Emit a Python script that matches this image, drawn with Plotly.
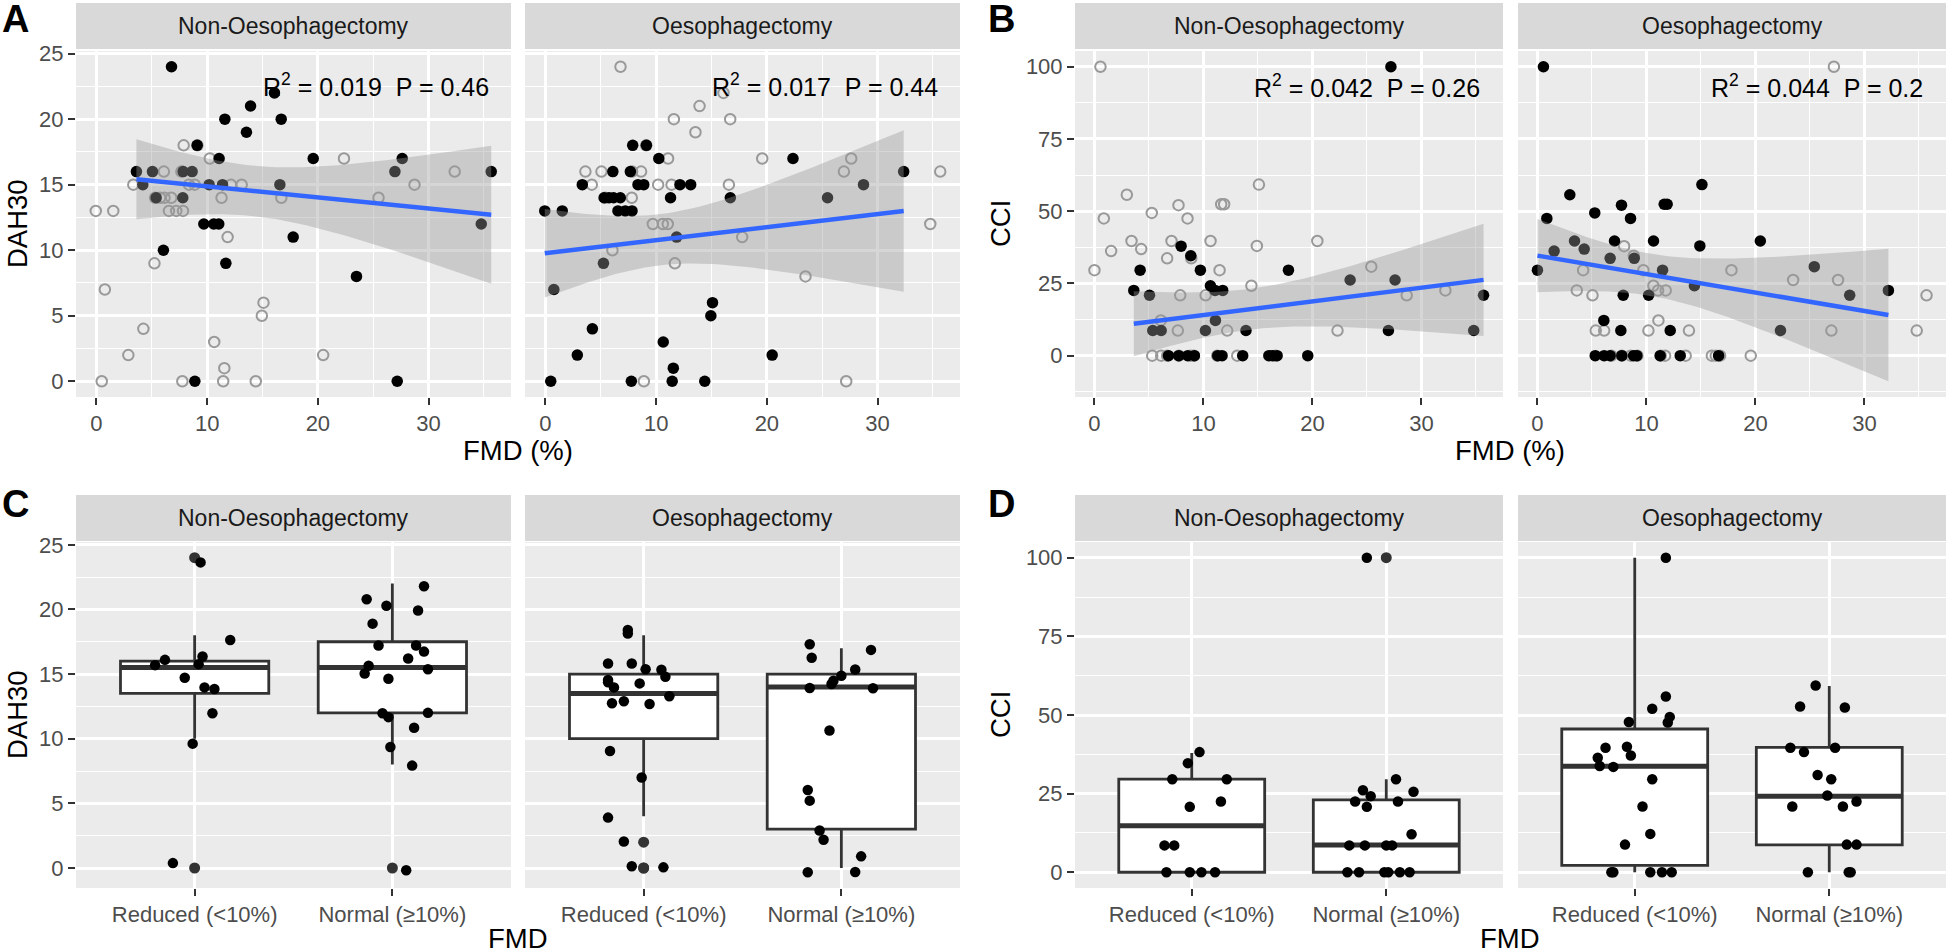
import numpy as np
import plotly.graph_objects as go

W, H = 1946, 952
FONT = "Liberation Sans, Arial, sans-serif"

facets = ["Non-Oesophagectomy", "Oesophagectomy"]
categories = ["Reduced (<10%)", "Normal (≥10%)"]

# ---- panel A: DAH30 vs FMD (%) ----
non_fmd_a = [6.78, 16.08, 13.92, 11.6, 16.69, 13.55, 9.1, 11.08, 19.58, 27.62,
             3.61, 5.06, 7.83, 8.64, 26.96, 35.66, 4.19, 10.18, 11.39, 16.57,
             5.39, 7.8, 9.7, 10.6, 11.05, 34.76, 17.77, 6.05, 11.69, 23.49,
             8.89, 27.17]
non_dah = [24, 22, 21, 20, 20, 19, 18, 17, 17, 17,
           16, 16, 16, 16, 16, 16, 15, 15, 15, 15,
           14, 14, 12, 12, 12, 12, 11, 10, 9, 8,
           0, 0]
oes_fmd_a = [7.88, 9.12, 10.24, 22.36, 32.36, 6.09, 7.67, 3.33, 8.36, 8.88,
             12.15, 13.12, 28.73, 5.3, 5.75, 6.15, 6.76, 11.3, 16.7, 25.48,
             -0.06, 1.52, 6.55, 7.21, 7.82, 11.85, 5.24, 0.76, 15.09, 14.94,
             4.24, 10.64, 2.88, 20.48, 11.55, 0.48, 7.76, 11.45, 14.39]
oes_dah = [18, 18, 17, 17, 16, 16, 16, 15, 15, 15,
           15, 15, 15, 14, 14, 14, 14, 14, 14, 14,
           13, 13, 13, 13, 13, 11, 9, 7, 6, 5,
           4, 3, 2, 2, 1, 0, 0, 0, 0]

# ---- panel B: CCI vs FMD (%) ----
non_fmd_b = [27.2, 7.95, 8.84, 4.19, 9.72, 17.8, 3.61, 5.05, 10.64, 11.07,
             11.77, 11.1, 23.46, 27.58, 35.7, 34.8, 5.35, 6.12, 10.18, 13.9,
             26.97, 6.79, 7.74, 8.56, 9.17, 11.31, 11.71, 13.6, 16.0, 16.36,
             16.76, 19.57]
non_cci = [100, 37.9, 34.6, 29.6, 29.6, 29.6, 22.6, 20.9, 24.2, 22.6,
           22.6, 12.2, 26.2, 26.2, 20.9, 8.7, 8.7, 8.7, 8.7, 8.7,
           8.7, 0, 0, 0, 0, 0, 0, 0, 0, 0,
           0, 0]
oes_fmd_b = [0.55, 15.09, 2.97, 7.71, 11.63, 11.9, 0.86, 5.26, 8.54, 3.4,
             7.07, 10.65, 20.45, 14.9, 1.53, 4.29, 6.67, 8.88, 0.0, 11.48,
             25.4, 14.4, 7.87, 10.2, 28.65, 32.2, 6.09, 7.65, 12.18, 22.3,
             5.3, 6.12, 6.67, 7.74, 8.82, 9.12, 11.26, 13.1, 16.62]
oes_cci = [100, 59.2, 55.7, 52.1, 52.4, 52.4, 47.5, 49.4, 47.5, 39.7,
           39.7, 39.7, 39.7, 38.0, 36.2, 36.9, 33.7, 33.7, 29.6, 29.6,
           30.8, 24.2, 20.9, 20.9, 20.9, 22.6, 12.2, 8.7, 8.7, 8.7,
           0, 0, 0, 0, 0, 0, 0, 0, 0]

stats_a = ["R<sup>2</sup> = 0.019 \u00a0P = 0.46", "R<sup>2</sup> = 0.017 \u00a0P = 0.44"]
stats_b = ["R<sup>2</sup> = 0.042 \u00a0P = 0.26", "R<sup>2</sup> = 0.044 \u00a0P = 0.2"]

# ---- panels C/D: jittered points as drawn (offset from category, value) ----
c_non_red_dx = [0.03, 0.18, 0.04, -0.15, -0.20, 0.02, -0.05, 0.05, 0.10, 0.09, -0.01, -0.11]
c_non_red_y = [23.64, 17.64, 16.36, 16.10, 15.69, 15.77, 14.72, 13.97, 13.85, 11.97, 9.62, 0.38]
c_non_nor_dx = [0.16, -0.13, -0.03, 0.13, -0.10, -0.07, 0.12, 0.16, 0.08, -0.12,
                0.18, -0.14, -0.02, -0.05, -0.02, 0.18, 0.11, -0.01, 0.10, 0.07]
c_non_nor_y = [21.79, 20.79, 20.28, 19.92, 18.90, 17.21, 17.21, 16.74, 16.21, 15.64,
               15.38, 15.05, 14.64, 11.97, 11.67, 12.0, 10.85, 9.36, 7.92, -0.18]
c_oes_red_dx = [-0.08, -0.08, -0.18, -0.06, 0.01, 0.09, 0.11, -0.18, -0.18, -0.15,
                -0.02, 0.13, -0.16, -0.10, 0.03, -0.17, -0.01, -0.18, -0.10, -0.06, 0.10]
c_oes_red_y = [18.41, 18.13, 15.82, 15.82, 15.38, 15.33, 14.80, 14.54, 14.36, 13.97,
               14.28, 13.28, 12.74, 12.90, 12.69, 9.05, 7.00, 3.90, 2.05, 0.13, 0.05]
c_oes_nor_dx = [-0.16, 0.15, -0.15, 0.07, 0.0, -0.04, -0.05, -0.16, 0.16, -0.06,
                -0.17, -0.16, -0.11, -0.09, 0.10, -0.17, 0.07]
c_oes_nor_y = [17.31, 16.87, 16.26, 15.36, 14.87, 14.49, 14.23, 13.92, 13.9, 10.64,
               6.03, 5.21, 2.9, 2.18, 0.9, -0.33, -0.31]

d_non_red_dx = [0.04, -0.02, -0.10, 0.18, -0.01, 0.15, -0.14, -0.09, -0.13, -0.01, 0.05, 0.12]
d_non_red_y = [38.2, 34.7, 29.6, 29.6, 20.8, 22.5, 8.55, 8.55, 0, 0, 0, 0]
d_non_nor_dx = [-0.10, 0.05, -0.12, 0.14, -0.08, -0.16, 0.06, -0.10, 0.13, -0.19,
                -0.11, 0.00, 0.03, -0.20, -0.14, -0.01, 0.01, 0.07, 0.12]
d_non_nor_y = [100, 29.6, 26.1, 25.6, 24.2, 22.5, 22.5, 20.8, 12.1, 8.55,
               8.55, 8.55, 8.55, 0, 0, 0, 0, 0, 0]
d_oes_red_dx = [0.16, 0.16, 0.09, 0.18, 0.17, -0.03, -0.15, -0.04, -0.02, -0.19,
                -0.18, -0.11, 0.09, 0.04, 0.08, -0.05, -0.12, -0.11, 0.08, 0.14, 0.19]
d_oes_red_y = [100, 55.9, 52.0, 49.4, 47.6, 47.8, 39.6, 39.9, 37.1, 36.4,
               33.8, 33.5, 29.6, 20.9, 12.2, 8.8, 0, 0, 0, 0, 0]
d_oes_nor_dx = [-0.07, -0.15, 0.08, -0.20, -0.13, 0.03, -0.06, 0.01, -0.01, -0.19,
                0.07, 0.14, 0.09, 0.14, -0.11, 0.10, 0.11]
d_oes_nor_y = [59.4, 52.7, 52.4, 39.6, 38.2, 39.6, 30.9, 29.6, 24.4, 20.9,
               20.9, 22.5, 8.8, 8.8, 0, 0, 0]


def t975(df):
    z = 1.959964
    return z + (z**3 + z) / (4 * df) + (5 * z**5 + 16 * z**3 + 3 * z) / (96 * df**2)


def lm_band(x, y):
    x = np.asarray(x, float)
    y = np.asarray(y, float)
    n = len(x)
    b1, b0 = np.polyfit(x, y, 1)
    xs = np.linspace(x.min(), x.max(), 80)
    fit = b0 + b1 * xs
    s = np.sqrt(np.sum((y - (b0 + b1 * x)) ** 2) / (n - 2))
    se = s * np.sqrt(1 / n + (xs - x.mean()) ** 2 / np.sum((x - x.mean()) ** 2))
    t = t975(n - 2)
    return xs, fit, fit - t * se, fit + t * se


def box_stats(v):
    # same rules as ggplot's geom_boxplot (type 7 quantiles, 1.5 IQR whiskers)
    q1, med, q3 = np.percentile(v, [25, 50, 75])
    lo_f, hi_f = q1 - 1.5 * (q3 - q1), q3 + 1.5 * (q3 - q1)
    inside = v[(v >= lo_f) & (v <= hi_f)]
    out = v[(v < lo_f) | (v > hi_f)]
    return q1, med, q3, inside.min(), inside.max(), out


def expand(vals, frac=0.05):
    lo, hi = float(min(vals)), float(max(vals))
    pad = (hi - lo) * frac
    return [lo - pad, hi + pad]


# facet geometry in pixels: (left, right) per facet, rows (top, bottom)
cols_left = [(76, 511), (525, 960)]
cols_right = [(1075, 1503), (1518, 1946)]
row_top = (51, 397)
row_bot = (542, 888)
strip_top = (3, 49)
strip_bot = (495, 541)

fig = go.Figure()
layout = {}
shapes = []
annotations = []

tickfont = dict(family=FONT, size=22, color="#4D4D4D")


def axis_pair(idx, cols, row, first, xr, yr, xmaj, ymaj, discrete=False):
    x0, x1 = cols
    y0, y1 = row
    sfx = "" if idx == 1 else str(idx)
    xa = dict(domain=[x0 / W, x1 / W], anchor="y" + sfx, range=xr, autorange=False,
              automargin=False, showgrid=True, gridcolor="white", gridwidth=2.6,
              zeroline=False, showline=False, ticks="outside", ticklen=7, tickwidth=2,
              tickcolor="#333333", tickfont=tickfont, fixedrange=True)
    if discrete:
        xa.update(tickmode="array", tickvals=[1, 2], ticktext=categories)
    else:
        xa.update(tick0=0, dtick=xmaj,
                  minor=dict(showgrid=True, gridcolor="white", gridwidth=1.3,
                             tick0=0, dtick=xmaj / 2, ticks=""))
    ya = dict(domain=[1 - y1 / H, 1 - y0 / H], anchor="x" + sfx, range=yr, autorange=False,
              automargin=False, showgrid=True, gridcolor="white", gridwidth=2.6,
              zeroline=False, showline=False, tick0=0, dtick=ymaj, tickfont=tickfont,
              minor=dict(showgrid=True, gridcolor="white", gridwidth=1.3,
                         tick0=0, dtick=ymaj / 2, ticks=""), fixedrange=True)
    if first:
        ya.update(ticks="outside", ticklen=7, tickwidth=2, tickcolor="#333333")
    else:
        ya.update(ticks="", showticklabels=False)
    layout["xaxis" + sfx] = xa
    layout["yaxis" + sfx] = ya
    return "x" + sfx, "y" + sfx


def paper_text(text, x, y, size, color="black", angle=0, xanchor="center", bold=False):
    annotations.append(dict(xref="paper", yref="paper", x=x / W, y=1 - y / H,
                            xanchor=xanchor, yanchor="middle", showarrow=False,
                            text="<b>%s</b>" % text if bold else text, textangle=angle,
                            font=dict(family=FONT, size=size, color=color)))


def strip(cols, srow, text):
    shapes.append(dict(type="rect", xref="paper", yref="paper",
                       x0=cols[0] / W, x1=cols[1] / W,
                       y0=1 - srow[1] / H, y1=1 - srow[0] / H,
                       fillcolor="#D9D9D9", line=dict(width=0), layer="below"))
    paper_text(text, (cols[0] + cols[1]) / 2, (srow[0] + srow[1]) / 2, 23, "#1A1A1A")


def scatter_panel(base, cols, xs_list, ys_list, stats, ann_y, ymaj):
    fits = [lm_band(x, y) for x, y in zip(xs_list, ys_list)]
    xr = expand(xs_list[0] + xs_list[1])
    yvals = list(ys_list[0]) + list(ys_list[1])
    for f in fits:
        yvals += list(f[2]) + list(f[3])
    yr = expand(yvals)
    for k in range(2):
        xa, ya = axis_pair(base + k, cols[k], row_top, k == 0, xr, yr, 10, ymaj)
        strip(cols[k], strip_top, facets[k])
        other = 1 - k
        fig.add_trace(go.Scatter(x=xs_list[other], y=ys_list[other], mode="markers",
                                 xaxis=xa, yaxis=ya, hoverinfo="skip",
                                 marker=dict(symbol="circle-open", size=10.5, color="#999999",
                                             line=dict(width=2, color="#999999"))))
        fig.add_trace(go.Scatter(x=xs_list[k], y=ys_list[k], mode="markers",
                                 xaxis=xa, yaxis=ya,
                                 marker=dict(size=11.5, color="black", line=dict(width=0))))
        xs, fit, lo, hi = fits[k]
        fig.add_trace(go.Scatter(x=np.concatenate([xs, xs[::-1]]),
                                 y=np.concatenate([hi, lo[::-1]]),
                                 mode="lines", fill="toself", xaxis=xa, yaxis=ya,
                                 fillcolor="rgba(153,153,153,0.4)", line=dict(width=0),
                                 hoverinfo="skip"))
        fig.add_trace(go.Scatter(x=xs, y=fit, mode="lines", xaxis=xa, yaxis=ya,
                                 line=dict(color="#3366FF", width=4.5)))
        annotations.append(dict(xref=xa, yref=ya, x=35.6, y=ann_y, xanchor="right",
                                yanchor="middle", showarrow=False, text=stats[k],
                                font=dict(family=FONT, size=25, color="black")))


def box_panel(base, cols, fmd_list, val_list, jit, yr, ymaj):
    for k in range(2):
        xa, ya = axis_pair(base + k, cols[k], row_bot, k == 0, [0.4, 2.6], yr, 1, ymaj,
                           discrete=True)
        strip(cols[k], strip_bot, facets[k])
        fmd = np.asarray(fmd_list[k])
        val = np.asarray(val_list[k], float)
        grp = np.where(fmd < 10, 1, 2)
        st = [box_stats(val[grp == g]) for g in (1, 2)]
        fig.add_trace(go.Box(x=[1, 2], q1=[s[0] for s in st], median=[s[1] for s in st],
                             q3=[s[2] for s in st], lowerfence=[s[3] for s in st],
                             upperfence=[s[4] for s in st], xaxis=xa, yaxis=ya,
                             width=0.75, whiskerwidth=0, fillcolor="white",
                             boxpoints=False, line=dict(color="#333333", width=2.8)))
        for g, s in zip((1, 2), st):
            if len(s[5]):
                fig.add_trace(go.Scatter(x=[g] * len(s[5]), y=s[5], mode="markers",
                                         xaxis=xa, yaxis=ya,
                                         marker=dict(size=11, color="#333333", line=dict(width=0))))
            fig.add_trace(go.Scatter(x=[g - 0.375, g + 0.375], y=[s[1], s[1]], mode="lines",
                                     xaxis=xa, yaxis=ya,
                                     line=dict(color="#333333", width=5)))
        for g, (dx, yy) in zip((1, 2), jit[k]):
            fig.add_trace(go.Scatter(x=[g + d for d in dx], y=yy, mode="markers",
                                     xaxis=xa, yaxis=ya,
                                     marker=dict(size=10.5, color="black", line=dict(width=0))))


scatter_panel(1, cols_left, [non_fmd_a, oes_fmd_a], [non_dah, oes_dah], stats_a, 22.6, 5)
scatter_panel(3, cols_right, [non_fmd_b, oes_fmd_b], [non_cci, oes_cci], stats_b, 93.4, 25)

c_yr = expand(c_non_red_y + c_non_nor_y + c_oes_red_y + c_oes_nor_y + non_dah + oes_dah)
box_panel(5, cols_left, [non_fmd_a, oes_fmd_a], [non_dah, oes_dah],
          [[(c_non_red_dx, c_non_red_y), (c_non_nor_dx, c_non_nor_y)],
           [(c_oes_red_dx, c_oes_red_y), (c_oes_nor_dx, c_oes_nor_y)]], c_yr, 5)
d_yr = expand(non_cci + oes_cci + d_non_red_y + d_oes_red_y)
box_panel(7, cols_right, [non_fmd_b, oes_fmd_b], [non_cci, oes_cci],
          [[(d_non_red_dx, d_non_red_y), (d_non_nor_dx, d_non_nor_y)],
           [(d_oes_red_dx, d_oes_red_y), (d_oes_nor_dx, d_oes_nor_y)]], d_yr, 25)

# axis titles
paper_text("FMD (%)", 518, 450, 27.5)
paper_text("FMD (%)", 1510, 450, 27.5)
paper_text("FMD", 518, 938, 27.5)
paper_text("FMD", 1510, 938, 27.5)
paper_text("DAH30", 17, 224, 27.5, angle=-90)
paper_text("DAH30", 17, 715, 27.5, angle=-90)
paper_text("CCI", 1000, 224, 27.5, angle=-90)
paper_text("CCI", 1000, 715, 27.5, angle=-90)

# panel letters
for letter, x, y in [("A", 0, 19), ("B", 986, 19), ("C", 0, 504), ("D", 986, 504)]:
    paper_text(letter, x, y, 38, xanchor="left", bold=True)

fig.update_layout(template="none", width=W, height=H, margin=dict(l=0, r=0, t=0, b=0),
                  paper_bgcolor="white", plot_bgcolor="#EBEBEB", showlegend=False,
                  shapes=shapes, annotations=annotations, **layout)

# pin the graph to the page corner so the body margin doesn't shift it
pin = ("document.body.style.margin='0';"
       "var d=document.getElementById('{plot_id}');"
       "d.style.position='fixed';d.style.left='0px';d.style.top='0px';")
fig.write_html("out.html", config={"displayModeBar": False}, post_script=pin)
